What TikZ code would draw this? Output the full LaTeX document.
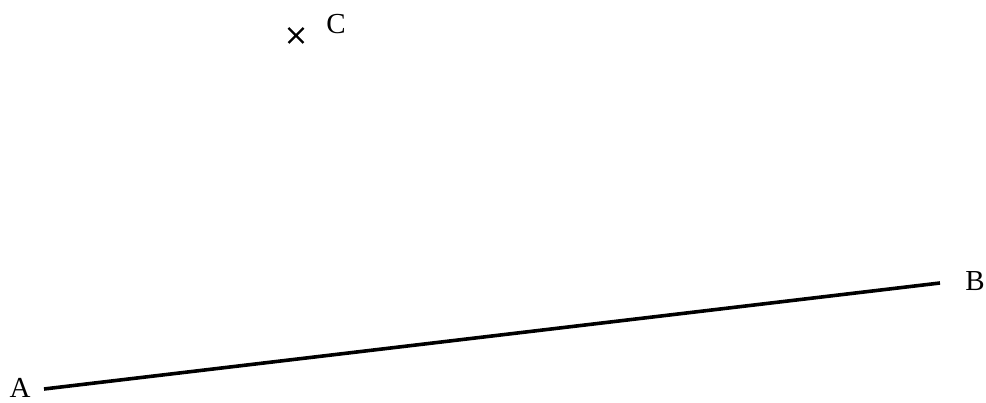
\documentclass[tikz,border=0pt]{standalone}
\usepackage{fontspec}
\setmainfont{Liberation Serif}
\begin{document}
\begin{tikzpicture}[
    x=1pt, y=-1pt,
    every node/.style={draw=none, inner sep=0pt, font=\fontsize{29}{29}\selectfont, anchor=base},
    segment/.style={line width=3.6pt},
    crossmark/.style={line width=2.2pt}
]
\useasboundingbox (0,0) rectangle (986,403);
\coordinate (a) at (44,389);
\coordinate (b) at (940,283);
\coordinate (c) at (296,35.5);
\node (la) at (20,398) {A};
\node (lb) at (975,291) {B};
\node (lc) at (336,33.5) {C};
\draw[segment] (a) -- (b);
\draw[crossmark] ([shift={(-7.5,-7.5)}]c) -- ([shift={(7.5,7.5)}]c)
                 ([shift={(-7.5,7.5)}]c) -- ([shift={(7.5,-7.5)}]c);
\end{tikzpicture}
\end{document}
